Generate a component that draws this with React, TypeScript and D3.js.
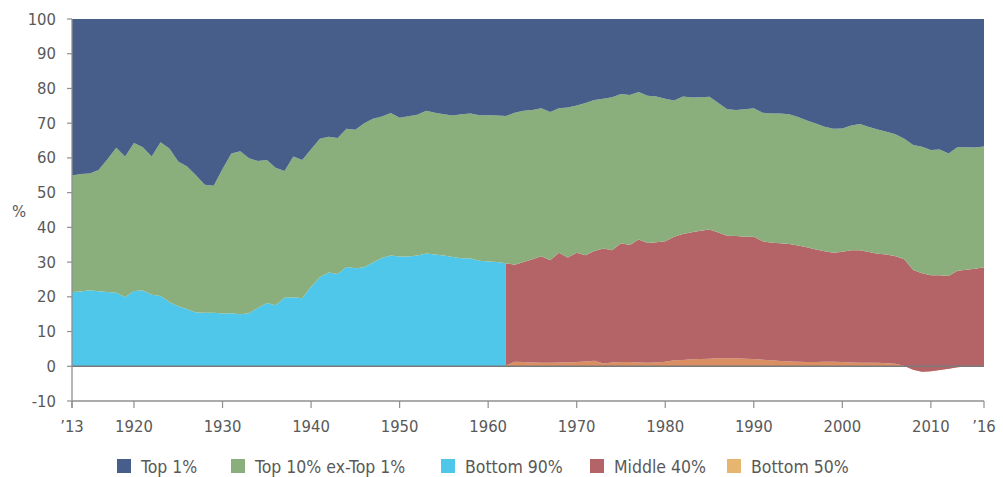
import React from 'react';
import * as d3 from 'd3';

// Years on the x axis (one value per year)
const years = d3.range(1913, 2017);
const splitYear = 1962; // Bottom 90% stops, Middle 40% / Bottom 50% start

const top1 = [
  45.1, 44.6, 44.5, 43.5, 40.4, 37.1, 39.6, 35.7, 36.9, 39.6,
  35.5, 37.3, 41.0, 42.5, 45.0, 47.7, 48.0, 43.2, 38.7, 38.1,
  40.1, 40.9, 40.6, 42.8, 43.8, 39.6, 40.6, 37.5, 34.5, 33.9,
  34.3, 31.6, 31.9, 30.0, 28.7, 28.1, 27.1, 28.4, 28.0, 27.6,
  26.4, 27.0, 27.4, 27.8, 27.4, 27.2, 27.7, 27.7, 27.8, 27.9,
  27.0, 26.4, 26.2, 25.7, 26.8, 25.7, 25.5, 24.9, 24.2, 23.3,
  23.0, 22.5, 21.6, 21.9, 21.0, 22.1, 22.3, 23.0, 23.5, 22.3,
  22.6, 22.5, 22.4, 24.2, 26.0, 26.2, 26.0, 25.7, 27.0, 27.2,
  27.2, 27.4, 28.2, 29.2, 30.1, 31.0, 31.6, 31.5, 30.7, 30.2,
  31.1, 31.8, 32.5, 33.2, 34.5, 36.3, 36.8, 37.7, 37.6, 38.7,
  36.9, 36.9, 37.0, 36.7,
];

const top10ExTop1 = [
  33.5, 33.9, 33.6, 34.9, 38.2, 41.7, 40.5, 42.6, 41.3, 39.8,
  44.3, 44.2, 41.7, 41.1, 39.5, 36.9, 36.6, 41.6, 46.0, 46.9,
  44.6, 42.3, 41.2, 39.6, 36.5, 40.5, 39.8, 39.6, 39.9, 39.1,
  39.1, 39.8, 39.9, 41.5, 41.4, 40.7, 41.0, 40.0, 40.4, 40.5,
  41.1, 40.8, 40.7, 40.7, 41.5, 41.8, 41.9, 42.1, 42.2, 42.4,
  43.8, 43.6, 43.0, 42.6, 42.7, 41.6, 43.2, 42.4, 43.8, 43.5,
  43.1, 44.1, 43.0, 43.2, 42.5, 42.4, 42.0, 41.0, 39.2, 39.6,
  38.8, 38.5, 38.2, 37.3, 36.4, 36.3, 36.7, 37.0, 37.0, 37.2,
  37.4, 37.4, 37.0, 36.5, 36.3, 35.9, 35.7, 35.5, 35.9, 36.4,
  36.0, 35.8, 35.3, 35.1, 34.7, 36.0, 36.4, 36.1, 36.2, 35.3,
  35.6, 35.3, 34.9, 34.8,
];

// 1913-1962
const bottom90 = [
  21.4, 21.5, 21.9, 21.6, 21.4, 21.2, 19.9, 21.7, 21.8, 20.6,
  20.2, 18.5, 17.3, 16.4, 15.5, 15.4, 15.4, 15.2, 15.3, 15.0,
  15.3, 16.8, 18.2, 17.6, 19.7, 19.9, 19.6, 22.9, 25.6, 27.0,
  26.6, 28.6, 28.2, 28.5, 29.9, 31.2, 31.9, 31.6, 31.6, 31.9,
  32.5, 32.2, 31.9, 31.5, 31.1, 31.0, 30.4, 30.2, 30.0, 29.7,
];

// 1962-2016
const middle40 = [
  29.5, 27.9, 28.8, 29.7, 30.7, 29.5, 31.6, 30.2, 31.5, 30.6,
  31.6, 33.1, 32.3, 34.2, 33.7, 35.4, 34.5, 34.6, 34.7, 35.6,
  36.3, 36.6, 36.9, 37.2, 36.2, 35.3, 35.2, 35.1, 35.2, 34.1,
  33.9, 33.9, 33.8, 33.5, 33.1, 32.4, 31.8, 31.4, 31.8, 32.3,
  32.4, 31.9, 31.4, 31.3, 31.0, 30.7, 28.7, 28.4, 27.6, 27.3,
  26.7, 27.8, 27.9, 28.1, 28.4,
];

// 1962-2016
const bottom50 = [
  0.2, 1.3, 1.2, 1.1, 1.0, 1.0, 1.1, 1.1, 1.2, 1.4,
  1.6, 0.8, 1.1, 1.2, 1.2, 1.1, 1.0, 1.1, 1.3, 1.7,
  1.8, 2.0, 2.1, 2.2, 2.3, 2.3, 2.3, 2.2, 2.1, 1.9,
  1.7, 1.5, 1.4, 1.3, 1.2, 1.2, 1.3, 1.3, 1.2, 1.1,
  1.0, 1.0, 1.0, 0.9, 0.7, 0.1, -1.0, -1.6, -1.4, -1.1,
  -0.7, -0.3, -0.1, 0.0, 0.1,
];

const yTicks = d3.range(-10, 101, 10);
const xTickYears = [1913, 1920, 1930, 1940, 1950, 1960, 1970, 1980, 1990, 2000, 2010, 2016];
const xTickLabel = (yr: number) => (yr === 1913 ? '\u201913' : yr === 2016 ? '\u201916' : String(yr));

const legendItems = [
  { label: 'Top 1%', color: '#465e89' },
  { label: 'Top 10% ex-Top 1%', color: '#8aaf7c' },
  { label: 'Bottom 90%', color: '#4fc7ea' },
  { label: 'Middle 40%', color: '#b46467' },
  { label: 'Bottom 50%', color: '#e6b670' },
];
const legendX = [117, 231, 441, 590, 727];

const W = 1003;
const H = 477;
const FONT = "'Liberation Sans Narrow', 'DejaVu Sans Condensed', 'Roboto Condensed', sans-serif";

type Band = { year: number; lo: number; hi: number };

export default function App() {
  const x = d3.scaleLinear().domain([1913, 2016]).range([72, 984]);
  const y = d3.scaleLinear().domain([-10, 100]).range([401, 19]);

  const early = years.filter(yr => yr <= splitYear);
  const late = years.filter(yr => yr >= splitYear);

  // stack everything by hand so the negative bottom 50% behaves like the original
  const cyan: Band[] = early.map((yr, i) => ({ year: yr, lo: 0, hi: bottom90[i] }));
  const orange: Band[] = late.map((yr, i) => ({ year: yr, lo: 0, hi: bottom50[i] }));
  const red: Band[] = late.map((yr, i) => ({ year: yr, lo: bottom50[i], hi: bottom50[i] + middle40[i] }));

  const base = years.map((yr, i) =>
    yr <= splitYear ? bottom90[i] : bottom50[yr - splitYear] + middle40[yr - splitYear]
  );
  const green: Band[] = years.map((yr, i) => ({ year: yr, lo: base[i], hi: base[i] + top10ExTop1[i] }));
  const blue: Band[] = years.map((yr, i) => ({
    year: yr,
    lo: base[i] + top10ExTop1[i],
    hi: base[i] + top10ExTop1[i] + top1[i],
  }));

  const area = d3
    .area<Band>()
    .x(d => x(d.year))
    .y0(d => y(d.lo))
    .y1(d => y(d.hi));

  const axisColor = '#8f8f8f';
  const textColor = '#595959';

  return (
    <svg width={W} height={H} style={{ position: 'absolute', left: 0, top: 0, background: '#fff' }}>
      <g>
        <path d={area(cyan) || ''} fill="#4fc7ea" />
        <path d={area(orange) || ''} fill="#d98f62" />
        <path d={area(red) || ''} fill="#b46467" />
        <path d={area(green) || ''} fill="#8aaf7c" />
        <path d={area(blue) || ''} fill="#465e89" />
      </g>

      {/* zero line */}
      <line x1={x(1913)} x2={x(2016)} y1={y(0)} y2={y(0)} stroke="#7a7a7a" strokeWidth={1.3} />

      {/* y axis */}
      <line x1={72} x2={72} y1={y(100)} y2={408} stroke={axisColor} strokeWidth={1.3} />
      {yTicks.map(t => (
        <g key={t}>
          <line x1={67} x2={72} y1={y(t)} y2={y(t)} stroke={axisColor} strokeWidth={1.2} />
          <text
            x={56}
            y={y(t)}
            textAnchor="end"
            dominantBaseline="central"
            fontFamily={FONT}
            fontSize={16.5}
            fill={textColor}
          >
            {t}
          </text>
        </g>
      ))}
      <text x={19} y={211} textAnchor="middle" dominantBaseline="central" fontFamily={FONT} fontSize={16.5} fill={textColor}>
        %
      </text>

      {/* x axis */}
      <line x1={x(1913)} x2={x(2016)} y1={y(-10)} y2={y(-10)} stroke={axisColor} strokeWidth={1.3} />
      {xTickYears.map(yr => (
        <g key={yr}>
          <line x1={x(yr)} x2={x(yr)} y1={y(-10)} y2={408} stroke={axisColor} strokeWidth={1.2} />
          <text
            x={x(yr)}
            y={426}
            textAnchor="middle"
            dominantBaseline="central"
            fontFamily={FONT}
            fontSize={16.5}
            fill={textColor}
          >
            {xTickLabel(yr)}
          </text>
        </g>
      ))}

      {/* legend */}
      {legendItems.map((item, i) => (
        <g key={item.label} transform={`translate(${legendX[i]},459)`}>
          <rect width={14} height={14} fill={item.color} />
          <text x={24} y={7.5} dominantBaseline="central" fontFamily={FONT} fontSize={17.5} fill={textColor}>
            {item.label}
          </text>
        </g>
      ))}
    </svg>
  );
}
